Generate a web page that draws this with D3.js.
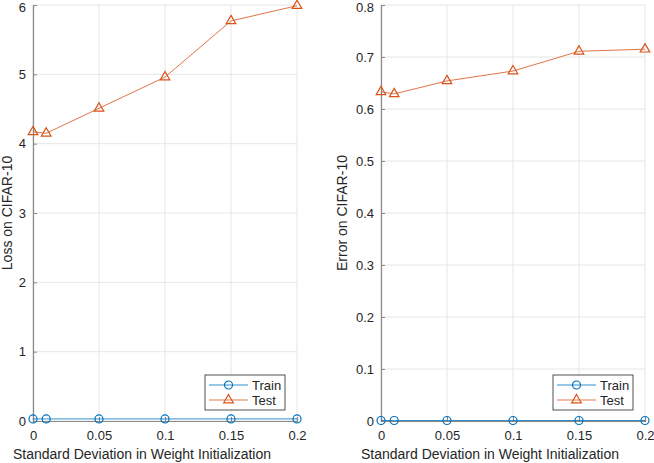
<!DOCTYPE html>
<html>
<head>
<meta charset="utf-8">
<script src="https://cdn.jsdelivr.net/npm/d3@7"></script>
<style>
  body { margin: 0; background: #fff; }
  text { font-family: "Liberation Sans", Arial, sans-serif; fill: #262626; }
</style>
</head>
<body>
<div id="chart"></div>
<script>
const w = 654;
const h = 463;

// data
const stdDev = [0, 0.01, 0.05, 0.1, 0.15, 0.2];
const lossTrain = [0.03, 0.03, 0.03, 0.03, 0.03, 0.03];
const lossTest = [4.17, 4.15, 4.51, 4.96, 5.77, 5.99];
const errTrain = [0.001, 0.001, 0.001, 0.001, 0.001, 0.001];
const errTest = [0.633, 0.629, 0.654, 0.673, 0.711, 0.715];
const xTicks = [0, 0.05, 0.1, 0.15, 0.2];
const lossTicks = [0, 1, 2, 3, 4, 5, 6];
const errTicks = [0, 0.1, 0.2, 0.3, 0.4, 0.5, 0.6, 0.7, 0.8];
const seriesNames = ['Train', 'Test'];

const blue = '#0072BD';
const orange = '#D95319';

const svg = d3.select('#chart')
  .append('svg')
  .attr('width', w)
  .attr('height', h);

function panel(opt) {
  const g = svg.append('g');
  const xScale = d3.scaleLinear().domain([0, 0.2]).range([opt.x0, opt.x1]);
  const yScale = d3.scaleLinear().domain(opt.yDomain).range([421, 5]);

  // grid
  g.append('g').selectAll('line.vg')
    .data(xTicks).enter().append('line')
    .attr('x1', d => xScale(d)).attr('x2', d => xScale(d))
    .attr('y1', 5).attr('y2', 421)
    .attr('stroke', '#e6e6e6').attr('stroke-width', 1);
  g.append('g').selectAll('line.hg')
    .data(opt.yTicks).enter().append('line')
    .attr('x1', opt.x0).attr('x2', opt.x1)
    .attr('y1', d => yScale(d)).attr('y2', d => yScale(d))
    .attr('stroke', '#e6e6e6').attr('stroke-width', 1);

  // axes, ticks pointing inside like matlab
  const xAxis = d3.axisTop(xScale).tickValues(xTicks).tickSize(4).tickFormat(d3.format('~g'));
  const yAxis = d3.axisRight(yScale).tickValues(opt.yTicks).tickSize(4).tickFormat(d3.format('~g'));

  const gx = g.append('g').attr('transform', `translate(0,421)`).call(xAxis);
  gx.selectAll('text').attr('y', 10).attr('dy', '0.71em').attr('font-size', 13).style('font-family', '"Liberation Sans", Arial, sans-serif');
  const gy = g.append('g').attr('transform', `translate(${opt.x0},0)`).call(yAxis);
  gy.selectAll('text').attr('x', -7).attr('text-anchor', 'end').attr('font-size', 13).style('font-family', '"Liberation Sans", Arial, sans-serif');
  // keep the top label inside the page
  gy.selectAll('.tick text').filter(d => d === opt.yDomain[1]).attr('dy', '0.5em');
  [gx, gy].forEach(a => {
    a.select('.domain').attr('stroke', '#888').attr('stroke-width', 1.2);
    a.selectAll('.tick line').attr('stroke', '#888');
    a.selectAll('.tick text').attr('fill', '#262626');
  });

  // lines
  const line = d3.line().x((d, i) => xScale(stdDev[i])).y(d => yScale(d));
  const series = [
    {vals: opt.train, color: blue, marker: 'o'},
    {vals: opt.test, color: orange, marker: '^'}
  ];
  series.forEach(s => {
    g.append('path').datum(s.vals)
      .attr('d', line)
      .attr('fill', 'none')
      .attr('stroke', s.color)
      .attr('stroke-width', 1)
      .attr('stroke-opacity', 0.8);
    drawMarkers(g, s.vals.map((v, i) => [xScale(stdDev[i]), yScale(v)]), s.marker, s.color);
  });

  // axis labels
  svg.append('text')
    .attr('x', (opt.x0 + opt.x1) / 2 - 23)
    .attr('y', 459)
    .attr('text-anchor', 'middle')
    .attr('font-size', 14)
    .text('Standard Deviation in Weight Initialization');
  svg.append('text')
    .attr('transform', `translate(${opt.labelX},213) rotate(-90)`)
    .attr('text-anchor', 'middle')
    .attr('font-size', 14)
    .text(opt.yLabel);

  // legend
  const lg = svg.append('g').attr('transform', `translate(${opt.legX},375)`);
  lg.append('rect').attr('width', 80).attr('height', 35)
    .attr('fill', '#fff').attr('stroke', '#262626').attr('stroke-width', 0.8);
  seriesNames.forEach((name, i) => {
    const yy = 10 + i * 15;
    const c = i === 0 ? blue : orange;
    lg.append('line').attr('x1', 4).attr('x2', 43).attr('y1', yy).attr('y2', yy)
      .attr('stroke', c).attr('stroke-width', 1).attr('stroke-opacity', 0.8);
    drawMarkers(lg, [[23.5, yy]], i === 0 ? 'o' : '^', c);
    lg.append('text').attr('x', 47).attr('y', yy + 4.5).attr('font-size', 13).text(name);
  });
}

function drawMarkers(g, pts, type, color) {
  if (type === 'o') {
    g.selectAll(null).data(pts).enter().append('circle')
      .attr('cx', d => d[0]).attr('cy', d => d[1]).attr('r', 4)
      .attr('fill', 'none').attr('stroke', color).attr('stroke-width', 1.2);
  } else {
    const tri = d3.symbol().type(d3.symbolTriangle).size(40);
    g.selectAll(null).data(pts).enter().append('path')
      .attr('d', tri)
      .attr('transform', d => `translate(${d[0]},${d[1]})`)
      .attr('fill', 'none').attr('stroke', color).attr('stroke-width', 1.2);
  }
}

panel({
  x0: 33, x1: 297, yDomain: [0, 6], yTicks: lossTicks,
  train: lossTrain, test: lossTest, yLabel: 'Loss on CIFAR-10', labelX: 12, legX: 205
});
panel({
  x0: 381, x1: 645, yDomain: [0, 0.8], yTicks: errTicks,
  train: errTrain, test: errTest, yLabel: 'Error on CIFAR-10', labelX: 347, legX: 553
});
</script>
</body>
</html>
